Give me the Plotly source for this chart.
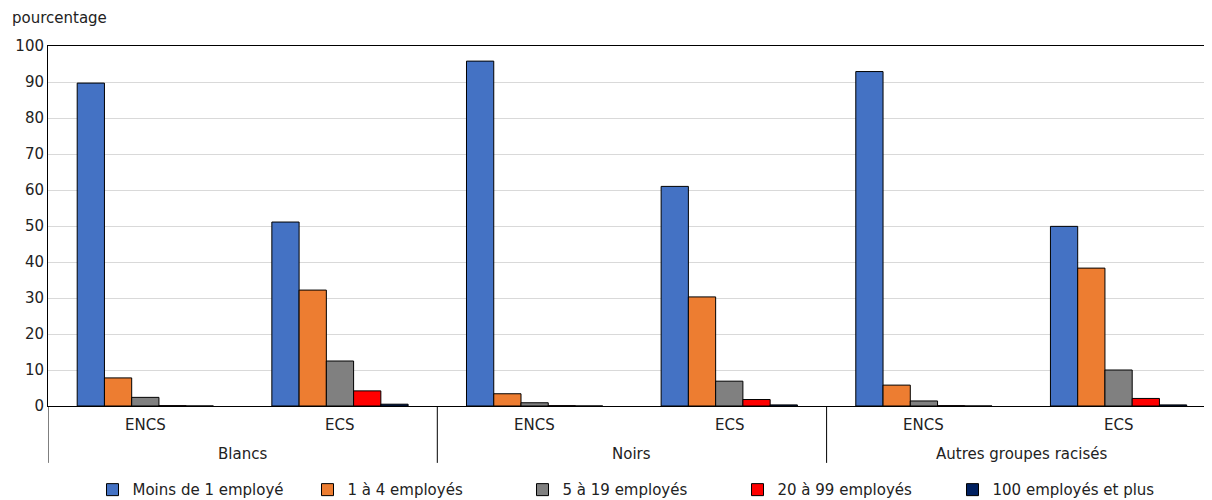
import plotly.graph_objects as go

groups = ["Blancs", "Noirs", "Autres groupes racisés"]
subcats = ["ENCS", "ECS"]
categories = [g + " " + s for g in groups for s in subcats]

series_names = ["Moins de 1 employé", "1 à 4 employés", "5 à 19 employés", "20 à 99 employés", "100 employés et plus"]
moins_1 = [89.7, 51.1, 95.8, 61.0, 92.9, 49.9]
un_a_4 = [7.8, 32.2, 3.4, 30.3, 5.8, 38.3]
cinq_a_19 = [2.4, 12.5, 0.9, 6.9, 1.4, 10.0]
vingt_a_99 = [0.1, 4.2, 0.1, 1.8, 0.1, 2.1]
cent_plus = [0.0, 0.5, 0.0, 0.3, 0.0, 0.3]
series_values = [moins_1, un_a_4, cinq_a_19, vingt_a_99, cent_plus]
colors = ["#4472C4", "#ED7D31", "#808080", "#FF0000", "#002060"]

FONT = "DejaVu Sans"
FS = 15
TXT = "#222222"

fig = go.Figure()
for name, vals, col in zip(series_names, series_values, colors):
    fig.add_trace(go.Bar(
        name=name,
        x=categories,
        y=vals,
        marker=dict(color=col, line=dict(color="#000000", width=1)),
    ))

annotations = [dict(text="pourcentage", xref="paper", yref="paper", x=-0.032, y=1.1056,
                    xanchor="left", yanchor="top", showarrow=False, borderpad=0,
                    font=dict(family=FONT, size=FS, color=TXT))]
for i, cat in enumerate(categories):
    annotations.append(dict(text=subcats[i % 2], xref="x", yref="paper", x=cat, y=-0.053,
                            xanchor="center", yanchor="middle", showarrow=False,
                            font=dict(family=FONT, size=FS, color=TXT)))
for gi, g in enumerate(groups):
    annotations.append(dict(text=g, xref="x", yref="paper", x=2 * gi + 0.5, y=-0.133,
                            xanchor="center", yanchor="middle", showarrow=False,
                            font=dict(family=FONT, size=FS, color=TXT)))

shapes = []
for xb in [-0.5, 1.5, 3.5, 5.5]:
    shapes.append(dict(type="line", xref="x", yref="paper", x0=xb, x1=xb, y0=0, y1=-0.158,
                       line=dict(color="#000000", width=1)))

fig.update_layout(
    width=1204, height=492,
    margin=dict(l=40, r=0, t=38, b=94, autoexpand=False),
    paper_bgcolor="white", plot_bgcolor="white",
    barmode="group", bargap=0.30, bargroupgap=0,
    font=dict(family=FONT, size=FS, color=TXT),
    showlegend=True,
    legend=dict(orientation="h", x=0.5, xanchor="center", y=-0.233, yanchor="middle",
                font=dict(family=FONT, size=FS, color=TXT),
                entrywidth=170, entrywidthmode="pixels", itemwidth=30,
                traceorder="normal"),
    xaxis=dict(type="category", range=[-0.5, 5.48], showline=True, linecolor="#000000",
               linewidth=1, mirror=True, ticks="", showticklabels=False, showgrid=False,
               automargin=False),
    yaxis=dict(range=[0, 100], dtick=10, showline=True, linecolor="#000000", linewidth=1,
               gridcolor="#D9D9D9", gridwidth=1, ticks="", zeroline=False, automargin=False,
               tickfont=dict(family=FONT, size=FS, color=TXT)),
    annotations=annotations,
    shapes=shapes,
)

fig.write_html("out.html")
